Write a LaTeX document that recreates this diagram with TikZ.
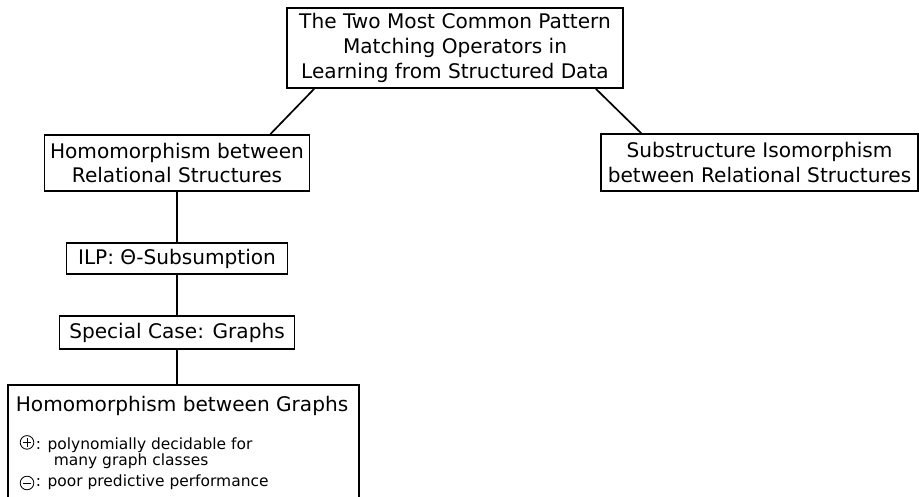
\documentclass[tikz,border=0pt]{standalone}
\usepackage{fontspec}
\setmainfont{DejaVu Sans}

\tikzset{
    box/.style={draw, rectangle, inner sep=2pt, align=center,
        font=\fontsize{14.3}{17.5}\selectfont},
    note/.style={inner sep=0pt, anchor=base west,
        font=\fontsize{11}{13}\selectfont},
    signmark/.style={draw, circle, line width=0.6pt, minimum size=0.34cm, inner sep=0pt},
    plussign/.style={signmark, path picture={
        \draw (path picture bounding box.center) ++(-0.11,0) -- ++(0.22,0);
        \draw (path picture bounding box.center) ++(0,-0.11) -- ++(0,0.22);}},
    minussign/.style={signmark, path picture={
        \draw (path picture bounding box.center) ++(-0.11,0) -- ++(0.22,0);}}
}

\begin{document}
\begin{tikzpicture}[line width=1.2pt]
        \useasboundingbox (0,0) rectangle (22.975,-12.4);
        % Cajas
        \node[box, minimum width=8.4cm, minimum height=2cm] (top) at (11.375,-1.2)
            {The Two Most Common Pattern\\Matching Operators in\\Learning from Structured Data};
        \node[box, minimum width=6.625cm, minimum height=1.4cm] (hom) at (4.425,-4.075)
            {Homomorphism between\\Relational Structures};
        \node[box, minimum width=7.925cm, minimum height=1.425cm] (sub) at (18.9875,-4.0625)
            {Substructure Isomorphism\\between Relational Structures};
        \node[box, minimum width=5.525cm, minimum height=0.775cm] (ilp) at (4.425,-6.4625)
            {ILP: Θ-Subsumption};
        \node[box, minimum width=5.875cm, minimum height=0.825cm] (spec) at (4.425,-8.3125)
            {Special Case: Graphs};
        \node[draw, rectangle, anchor=north west, minimum width=8.775cm, minimum height=3.2cm] (hgr) at (0.175,-9.6) {};
        % Texto de la caja inferior
        \node[box, draw=none, inner sep=0pt, anchor=base west] (hgrtitle) at ([xshift=0.2cm, yshift=-0.69cm]hgr.north west)
            {Homomorphism between Graphs};
        \node[plussign] (promark) at ([xshift=0.5cm, yshift=-1.46cm]hgr.north west) {};
        \node[note] (pro) at ([xshift=0.7cm, yshift=-1.625cm]hgr.north west) {: polynomially decidable for};
        \node[note] (procont) at ([xshift=1.15cm, yshift=-2.04cm]hgr.north west) {many graph classes};
        \node[minussign] (conmark) at ([xshift=0.5cm, yshift=-2.475cm]hgr.north west) {};
        \node[note] (con) at ([xshift=0.7cm, yshift=-2.56cm]hgr.north west) {: poor predictive performance};
        % Conectores
        \draw ([xshift=0.7cm]top.south west) -- ([xshift=-1cm]hom.north east);
        \draw ([xshift=-0.7cm]top.south east) -- ([xshift=1.025cm]sub.north west);
        \draw (hom) -- (ilp);
        \draw (ilp) -- (spec);
        \draw (spec.south) -- (spec.south |- hgr.north);
    \end{tikzpicture}
\end{document}
